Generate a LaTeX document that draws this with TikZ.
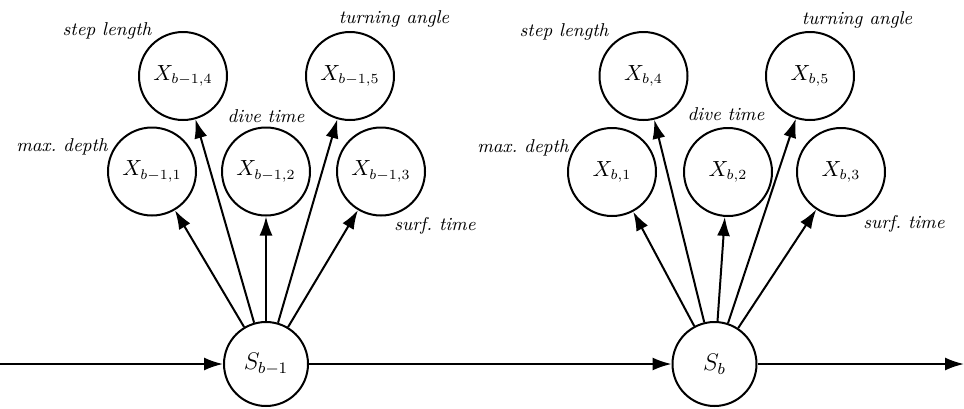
\documentclass[tikz,border=0pt]{standalone}
\usetikzlibrary{arrows.meta}
\begin{document}
\begin{tikzpicture}[x=0.5pt,y=-0.5pt,
  obs/.style={circle,draw,line width=1pt,minimum size=44pt,inner sep=0pt,font=\fontsize{10.5}{12}\selectfont},
  hid/.style={circle,draw,line width=1pt,minimum size=42pt,inner sep=0pt,font=\fontsize{12}{14}\selectfont},
  lab/.style={font=\fontsize{9.3}{11}\selectfont\itshape,inner sep=0pt},
  arr/.style={line width=1pt,-{Latex[length=9.5pt,width=6.5pt]}}]
\useasboundingbox (0,0) rectangle (964,408);
% left group
\node[hid] (S1) at (266,364) {$S_{b-1}$};
\node[obs] (A4) at (183,76) {$X_{b-1,4}$};
\node[obs] (A5) at (350,76) {$X_{b-1,5}$};
\node[obs] (A1) at (152,171.5) {$X_{b-1,1}$};
\node[obs] (A2) at (266,171.5) {$X_{b-1,2}$};
\node[obs] (A3) at (381,171.5) {$X_{b-1,3}$};
\node[lab] (LA4) at (107,31) {step length};
\node[lab] (LA5) at (394,19) {turning angle};
\node[lab] (LA2) at (266,116) {dive time};
\node[lab] (LA1) at (62,147) {max.\ depth};
\node[lab] (LA3) at (435,226) {surf.\ time};
% right group
\node[hid] (S2) at (714.5,364) {$S_{b}$};
\node[obs] (B4) at (643.5,76) {$X_{b,4}$};
\node[obs] (B5) at (810,76) {$X_{b,5}$};
\node[obs] (B1) at (612,172) {$X_{b,1}$};
\node[obs] (B2) at (728,172) {$X_{b,2}$};
\node[obs] (B3) at (841,172) {$X_{b,3}$};
\node[lab] (LB4) at (564,32) {step length};
\node[lab] (LB5) at (857,20) {turning angle};
\node[lab] (LB2) at (726,114) {dive time};
\node[lab] (LB1) at (523,148) {max.\ depth};
\node[lab] (LB3) at (904,224) {surf.\ time};
% chain
\coordinate (in) at (0,364);
\coordinate (out) at (964,364);
\draw[arr] (in) -- (S1);
\draw[arr] (S1) -- (S2);
\draw[arr] (S2) -- (out);
% emissions
\foreach \n in {1,...,5} {
  \draw[arr] (S1) -- (A\n);
  \draw[arr] (S2) -- (B\n);
}
\end{tikzpicture}
\end{document}
